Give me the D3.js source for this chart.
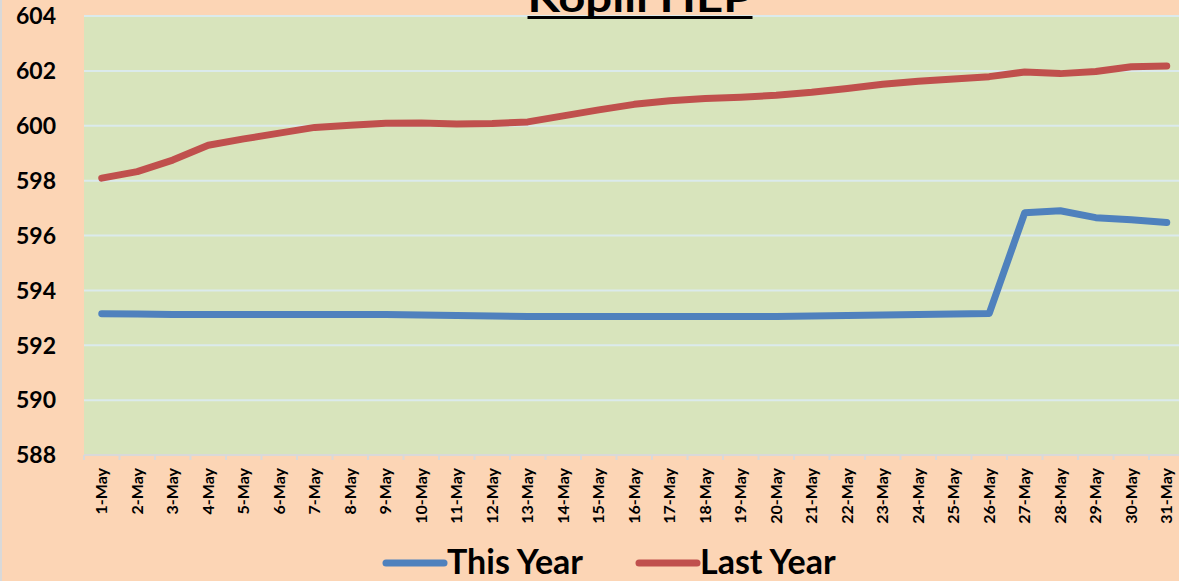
<!DOCTYPE html>
<html>
<head>
<meta charset="utf-8">
<script src="https://cdn.jsdelivr.net/npm/d3@7"></script>
<style>
  html, body { margin: 0; padding: 0; background: #fcd5b5; overflow: hidden; }
  svg { display: block; font-family: Lato, "Open Sans", sans-serif; }
</style>
</head>
<body>
<svg id="chart" width="1179" height="581"></svg>
<script>
// data
const days = d3.range(1, 32).map(d => d + '-May')
const thisYear = [593.15, 593.14, 593.12, 593.12, 593.12, 593.12, 593.12, 593.12, 593.12, 593.10,
  593.08, 593.07, 593.05, 593.05, 593.05, 593.05, 593.05, 593.05, 593.05, 593.05,
  593.07, 593.08, 593.10, 593.12, 593.14, 593.16, 596.83, 596.90, 596.65, 596.57, 596.47]
const lastYear = [598.09, 598.33, 598.75, 599.29, 599.52, 599.73, 599.94, 600.02, 600.09, 600.10,
  600.06, 600.08, 600.14, 600.36, 600.58, 600.78, 600.91, 600.99, 601.04, 601.11,
  601.22, 601.36, 601.51, 601.62, 601.70, 601.79, 601.96, 601.90, 601.98, 602.15, 602.18]
const yTicks = [588, 590, 592, 594, 596, 598, 600, 602, 604]
const seriesNames = ['This Year', 'Last Year']
const seriesColors = ['#4f81bd', '#c0504d']

const svg = d3.select('#chart')
const plotLeft = 84, plotTop = 16, plotBottom = 455, step = 35.5

const x = d3.scaleBand().domain(days).range([plotLeft, plotLeft + step * days.length])
const y = d3.scaleLinear().domain([588, 604]).range([plotBottom, plotTop])

// outer border
svg.append('line').attr('x1', 1).attr('x2', 1).attr('y1', 0).attr('y2', 581)
  .attr('stroke', '#d9d9d9').attr('stroke-width', 2)

// plot area
svg.append('rect')
  .attr('x', plotLeft).attr('y', plotTop)
  .attr('width', x.range()[1] - plotLeft).attr('height', plotBottom - plotTop)
  .attr('fill', '#d8e4bc')

// gridlines
svg.append('g')
  .selectAll('line')
  .data(yTicks.slice(1))
  .join('line')
  .attr('x1', plotLeft).attr('x2', x.range()[1])
  .attr('y1', d => y(d)).attr('y2', d => y(d))
  .attr('stroke', '#dbeaec').attr('stroke-width', 2)

// y axis labels
svg.append('g')
  .selectAll('text')
  .data(yTicks)
  .join('text')
  .attr('x', 56).attr('y', d => y(d))
  .attr('dy', '0.36em')
  .attr('text-anchor', 'end')
  .attr('font-size', 23).attr('font-weight', 'bold')
  .text(d => d)

// x axis
const xAxis = svg.append('g')
  .attr('transform', `translate(0,${plotBottom})`)
  .call(d3.axisBottom(x).tickSize(0).tickPadding(0))
xAxis.select('.domain').remove()
xAxis.append('line').attr('x1', plotLeft).attr('x2', x.range()[1])
  .attr('stroke', '#d9d9d9').attr('stroke-width', 2)
xAxis.selectAll('.ticklines')
  .data(days)
  .join('line')
  .attr('x1', d => x(d)).attr('x2', d => x(d))
  .attr('y1', 0).attr('y2', 5)
  .attr('stroke', '#d9d9d9').attr('stroke-width', 2)
xAxis.selectAll('.tick text')
  .attr('transform', 'rotate(-90)')
  .attr('x', -13).attr('y', 0).attr('dy', '0.35em')
  .attr('text-anchor', 'end')
  .attr('fill', '#000')
  .attr('font-family', 'Lato, sans-serif')
  .attr('font-size', 16).attr('font-weight', 'bold')

// lines
const line = d3.line()
  .x((d, i) => x(days[i]) + x.bandwidth() / 2)
  .y(d => y(d))

;[thisYear, lastYear].forEach((s, i) => {
  svg.append('path')
    .datum(s)
    .attr('d', line)
    .attr('fill', 'none')
    .attr('stroke', seriesColors[i])
    .attr('stroke-width', 7)
    .attr('stroke-linejoin', 'round')
    .attr('stroke-linecap', 'round')
})

// title (cut off at the top, as in the original)
const title = svg.append('text')
  .attr('x', 640).attr('y', 12)
  .attr('text-anchor', 'middle')
  .attr('font-size', 40).attr('font-weight', 'bold')
  .attr('textLength', 225).attr('lengthAdjust', 'spacingAndGlyphs')
  .text('Kopili HEP')
const tb = title.node().getBBox()
svg.append('rect')
  .attr('x', tb.x).attr('y', 16).attr('width', tb.width).attr('height', 3)
  .attr('fill', '#000')

// legend
const legendX = [386, 639]
const legend = svg.append('g')
seriesNames.forEach((n, i) => {
  legend.append('line')
    .attr('x1', legendX[i]).attr('x2', legendX[i] + 58)
    .attr('y1', 563).attr('y2', 563)
    .attr('stroke', seriesColors[i]).attr('stroke-width', 7)
    .attr('stroke-linecap', 'round')
  legend.append('text')
    .attr('x', legendX[i] + 61).attr('y', 574)
    .attr('font-size', 34).attr('font-weight', 'bold')
    .text(n)
})
</script>
</body>
</html>
